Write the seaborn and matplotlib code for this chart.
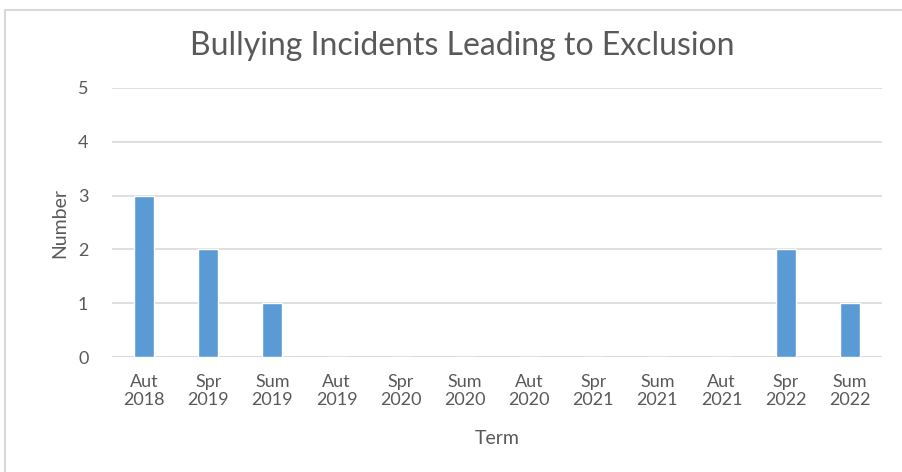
import pandas as pd
import seaborn as sns
import matplotlib.pyplot as plt
from matplotlib.patches import Rectangle

terms = ["Aut\n2018", "Spr\n2019", "Sum\n2019", "Aut\n2019", "Spr\n2020", "Sum\n2020",
         "Aut\n2020", "Spr\n2021", "Sum\n2021", "Aut\n2021", "Spr\n2022", "Sum\n2022"]
incidents = [3, 2, 1, 0, 0, 0, 0, 0, 0, 0, 2, 1]
y_ticks = [0, 1, 2, 3, 4, 5]

df = pd.DataFrame({"Term": terms, "Number": incidents})

sns.set_theme(style="white")
plt.rcParams["font.family"] = ["Lato", "DejaVu Sans"]

grey = "#595959"
fig = plt.figure(figsize=(9.03, 4.72), dpi=100)
ax = fig.add_axes([112 / 903, 1 - 357 / 472, 770 / 903, 269 / 472])

sns.barplot(data=df, x="Term", y="Number", color="#5B9BD5", width=0.31,
            saturation=1, ax=ax, zorder=3)

ax.set_ylim(0, 5)
ax.set_yticks(y_ticks)
ax.yaxis.grid(True, color="#d9d9d9", linewidth=1.2, zorder=0)
ax.set_axisbelow(True)
for s in ax.spines.values():
    s.set_visible(False)
ax.axhline(0, color="#d9d9d9", linewidth=1.2, zorder=1)

ax.tick_params(axis="both", length=0, labelsize=13, labelcolor=grey)
ax.tick_params(axis="y", pad=17)
ax.tick_params(axis="x", pad=12)
ax.set_xlabel("Term", fontsize=14, color=grey, labelpad=16)
ax.set_ylabel("Number", fontsize=14, color=grey, labelpad=7)
# title is centred on the chart area, not the plot area
ax.set_title("Bullying Incidents Leading to Exclusion", fontsize=23, color=grey,
             pad=24, x=0.455)

# chart frame
fig.patches.append(Rectangle((5 / 903, -0.1), 1.1, 1 - 10 / 472 + 0.1,
                             transform=fig.transFigure, fill=False,
                             edgecolor="#d9d9d9", linewidth=1.5))

fig.savefig("out.png", dpi=100)
